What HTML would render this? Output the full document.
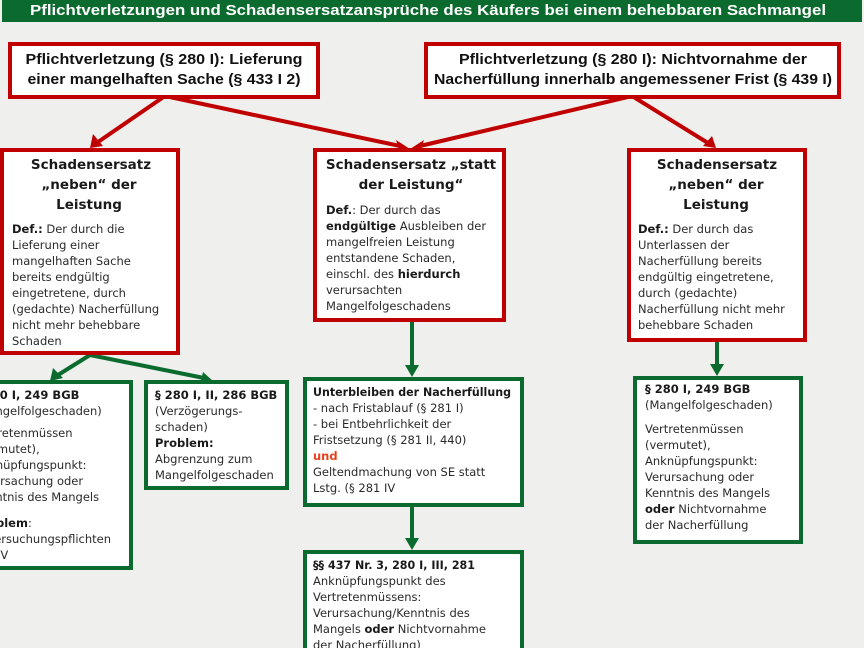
<!DOCTYPE html>
<html><head><meta charset="utf-8"><style>
html,body{margin:0;padding:0;background:#efefed;}
svg{display:block}
.t{font-family:"DejaVu Sans",sans-serif;font-size:11.5px;fill:#2a2a2a}
.b{font-weight:bold;fill:#1a1a1a}
.h{font-family:"DejaVu Sans",sans-serif;font-size:13.5px;font-weight:bold;fill:#1a1a1a;text-anchor:middle}
.top{font-family:"Liberation Sans",sans-serif;font-size:15px;font-weight:bold;fill:#111;text-anchor:middle}
</style></head><body>
<svg width="864" height="648" viewBox="0 0 864 648" xmlns="http://www.w3.org/2000/svg">
<rect width="864" height="648" fill="#efefed"/>
<rect x="2" y="0" width="860" height="22" fill="#0b6b2e"/>
<text x="428" y="15" font-family="Liberation Sans,sans-serif" font-size="15" font-weight="bold" fill="#fff" text-anchor="middle" textLength="796" lengthAdjust="spacingAndGlyphs">Pflichtverletzungen  und  Schadensersatzansprüche  des  Käufers  bei  einem  behebbaren  Sachmangel</text>

<g stroke="#c00000" stroke-width="4" fill="#c00000">
<line x1="165" y1="96" x2="98" y2="142"/>
<line x1="165" y1="96" x2="400" y2="146"/>
<line x1="632" y1="96" x2="420" y2="146"/>
<line x1="632" y1="96" x2="708" y2="143"/>
</g>
<g fill="#c00000">
<polygon points="90,148 93,134 103,146"/>
<polygon points="410,149 396,140 400,152"/>
<polygon points="410,149 424,140 420,152"/>
<polygon points="716,148 703,146 712,136"/>
</g>
<g stroke="#0b6b2e" stroke-width="4" fill="#0b6b2e">
<line x1="90" y1="355" x2="58" y2="375"/>
<line x1="90" y1="355" x2="204" y2="378"/>
<line x1="412" y1="322" x2="412" y2="368"/>
<line x1="412" y1="507" x2="412" y2="541"/>
<line x1="717" y1="341" x2="717" y2="367"/>
</g>
<g fill="#0b6b2e">
<polygon points="50,381 53,368 63,378"/>
<polygon points="213,381 200,385 203,372"/>
<polygon points="412,377 405,365 419,365"/>
<polygon points="412,550 405,538 419,538"/>
<polygon points="717,376 710,364 724,364"/>
</g>

<rect x="10" y="44" width="308" height="53" fill="#fff" stroke="#c00000" stroke-width="4"/>
<text class="top" x="164" y="64" textLength="277" lengthAdjust="spacingAndGlyphs">Pflichtverletzung (§ 280 I): Lieferung</text>
<text class="top" x="164" y="84" textLength="273" lengthAdjust="spacingAndGlyphs">einer mangelhaften Sache (§ 433 I 2)</text>
<rect x="426" y="44" width="413" height="53" fill="#fff" stroke="#c00000" stroke-width="4"/>
<text class="top" x="633" y="64" textLength="348" lengthAdjust="spacingAndGlyphs">Pflichtverletzung (§ 280 I): Nichtvornahme der</text>
<text class="top" x="633" y="84" textLength="398" lengthAdjust="spacingAndGlyphs">Nacherfüllung innerhalb angemessener Frist (§ 439 I)</text>

<rect x="2" y="150" width="176" height="203" fill="#fff" stroke="#c00000" stroke-width="4"/>
<text class="h" x="91" y="169">Schadensersatz</text>
<text class="h" x="89" y="189">„neben“ der</text>
<text class="h" x="89" y="209">Leistung</text>
<g class="t">
<text x="12" y="233"><tspan class="b">Def.:</tspan> Der durch die</text>
<text x="12" y="249">Lieferung einer</text>
<text x="12" y="265">mangelhaften Sache</text>
<text x="12" y="281">bereits endgültig</text>
<text x="12" y="297">eingetretene, durch</text>
<text x="12" y="313">(gedachte) Nacherfüllung</text>
<text x="12" y="329">nicht mehr behebbare</text>
<text x="12" y="345">Schaden</text>
</g>

<rect x="315" y="150" width="189" height="170" fill="#fff" stroke="#c00000" stroke-width="4"/>
<text class="h" x="411" y="169">Schadensersatz „statt</text>
<text class="h" x="411" y="189">der Leistung“</text>
<g class="t">
<text x="326" y="214"><tspan class="b">Def.</tspan>: Der durch das</text>
<text x="326" y="230"><tspan class="b">endgültige</tspan> Ausbleiben der</text>
<text x="326" y="246">mangelfreien Leistung</text>
<text x="326" y="262">entstandene Schaden,</text>
<text x="326" y="278">einschl. des <tspan class="b">hierdurch</tspan></text>
<text x="326" y="294">verursachten</text>
<text x="326" y="310">Mangelfolgeschadens</text>
</g>

<rect x="629" y="150" width="176" height="190" fill="#fff" stroke="#c00000" stroke-width="4"/>
<text class="h" x="717" y="169">Schadensersatz</text>
<text class="h" x="716" y="189">„neben“ der</text>
<text class="h" x="716" y="209">Leistung</text>
<g class="t">
<text x="638" y="233"><tspan class="b">Def.:</tspan> Der durch das</text>
<text x="638" y="249">Unterlassen der</text>
<text x="638" y="265">Nacherfüllung bereits</text>
<text x="638" y="281">endgültig eingetretene,</text>
<text x="638" y="297">durch (gedachte)</text>
<text x="638" y="313">Nacherfüllung nicht mehr</text>
<text x="638" y="329">behebbare Schaden</text>
</g>

<rect x="-6" y="382" width="137" height="186" fill="#fff" stroke="#0b6b2e" stroke-width="4"/>
<g class="t">
<text x="-26" y="399" class="b">§ 280 I, 249 BGB</text>
<text x="-26" y="415">(Mangelfolgeschaden)</text>
<text x="-26" y="437">Vertretenmüssen</text>
<text x="-26" y="453">(vermutet),</text>
<text x="-26" y="469">Anknüpfungspunkt:</text>
<text x="-26" y="485">Verursachung oder</text>
<text x="-26" y="501">Kenntnis des Mangels</text>
<text x="-26" y="527"><tspan class="b">Problem</tspan>:</text>
<text x="-26" y="543">Untersuchungspflichten</text>
<text x="-38" y="559">§ 377 IV</text>
</g>

<rect x="146" y="382" width="141" height="106" fill="#fff" stroke="#0b6b2e" stroke-width="4"/>
<g class="t">
<text x="155" y="399" class="b">§ 280 I, II, 286 BGB</text>
<text x="155" y="415">(Verzögerungs-</text>
<text x="155" y="431">schaden)</text>
<text x="155" y="447" class="b">Problem:</text>
<text x="155" y="463">Abgrenzung zum</text>
<text x="155" y="479">Mangelfolgeschaden</text>
</g>

<rect x="305" y="379" width="217" height="126" fill="#fff" stroke="#0b6b2e" stroke-width="4"/>
<g class="t">
<text x="313" y="396" class="b" textLength="198" lengthAdjust="spacingAndGlyphs">Unterbleiben der Nacherfüllung</text>
<text x="313" y="412">- nach Fristablauf (§ 281 I)</text>
<text x="313" y="428">- bei Entbehrlichkeit der</text>
<text x="313" y="444">Fristsetzung (§ 281 II, 440)</text>
<text x="313" y="460" class="b" style="fill:#e8401c">und</text>
<text x="313" y="476">Geltendmachung von SE statt</text>
<text x="313" y="492">Lstg. (§ 281 IV</text>
</g>

<rect x="305" y="552" width="217" height="110" fill="#fff" stroke="#0b6b2e" stroke-width="4"/>
<g class="t">
<text x="313" y="569" class="b" textLength="162" lengthAdjust="spacingAndGlyphs">§§ 437 Nr. 3, 280 I, III, 281</text>
<text x="313" y="585">Anknüpfungspunkt des</text>
<text x="313" y="601">Vertretenmüssens:</text>
<text x="313" y="617">Verursachung/Kenntnis des</text>
<text x="313" y="633">Mangels <tspan class="b">oder</tspan> Nichtvornahme</text>
<text x="313" y="649">der Nacherfüllung)</text>
</g>

<rect x="635" y="378" width="166" height="164" fill="#fff" stroke="#0b6b2e" stroke-width="4"/>
<g class="t">
<text x="645" y="393" class="b">§ 280 I, 249 BGB</text>
<text x="645" y="409">(Mangelfolgeschaden)</text>
<text x="645" y="433">Vertretenmüssen</text>
<text x="645" y="449">(vermutet),</text>
<text x="645" y="465">Anknüpfungspunkt:</text>
<text x="645" y="481">Verursachung oder</text>
<text x="645" y="497">Kenntnis des Mangels</text>
<text x="645" y="513"><tspan class="b">oder</tspan> Nichtvornahme</text>
<text x="645" y="529">der Nacherfüllung</text>
</g>
</svg>
</body></html>
